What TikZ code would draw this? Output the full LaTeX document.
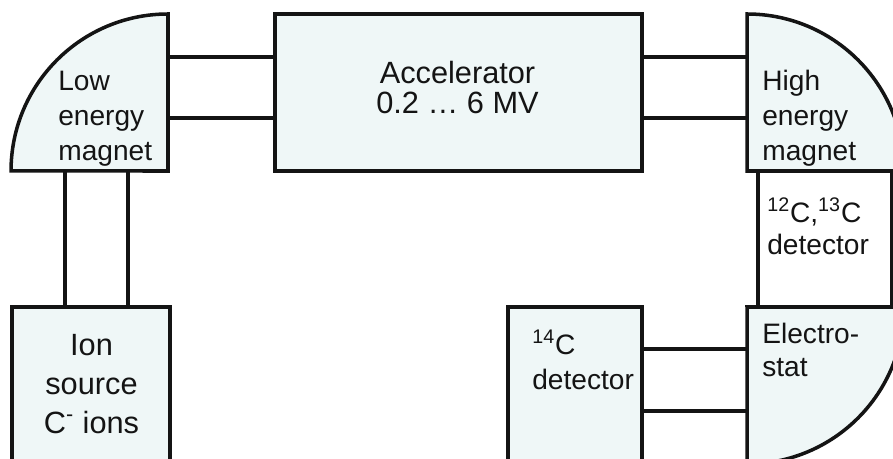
\documentclass[tikz,border=0pt]{standalone}
\usepackage{fontspec}
\setmainfont{Liberation Sans}
\usetikzlibrary{positioning,fit}
\definecolor{partfill}{RGB}{239,247,247}
\definecolor{inkc}{RGB}{20,20,20}

\begin{document}
\begin{tikzpicture}[
  x=0.02cm, y=0.02cm,
  zone/.style={inner sep=0pt, outer sep=0pt},
  part/.style={draw=inkc, fill=partfill, line width=2pt, inner sep=0pt, outer sep=0pt},
  det/.style={draw=inkc, fill=white, line width=2pt, inner sep=0pt, outer sep=0pt},
  tube/.style={line width=2pt, inkc},
  txt/.style={font=\fontsize{16}{20}\selectfont, align=left, inner sep=0pt, text=inkc, anchor=base west},
  bigtxt/.style={font=\fontsize{17.5}{17.6}\selectfont, align=center, inner sep=0pt, text=inkc, anchor=base},
]
\useasboundingbox (0,0) rectangle (893,-459);
\clip (0,0) rectangle (893,-459);

% ============ magnets and electrostat (quarter discs) ============
\node[zone, fit={(11,-14)(168,-171)}] (lem) {};
\node[zone, fit={(747,-14)(904,-171)}] (hem) {};
\node[zone, fit={(747,-307)(904,-464)}] (esa) {};
\draw[part] (lem.north east) arc[start angle=90, end angle=180, radius=3.14cm] -- (lem.south east) -- cycle;
\draw[part] (hem.north west) arc[start angle=90, end angle=0, radius=3.14cm] -- (hem.south west) -- cycle;
\draw[part] (esa.north west) -- (esa.north east) arc[start angle=0, end angle=-90, radius=3.14cm] -- cycle;

% ============ boxes ============
\node[part, fit={(275,-14)(642,-171)}] (acc) {};
\node[det, fit={(758,-171)(892,-307)}] (cdet) {};
\node[part, fit={(508,-307)(642,-480)}] (fdet) {};
\node[part, fit={(12,-307)(170,-480)}] (src) {};

% ============ beam tubes ============
\coordinate (hiA) at (0,-57);
\coordinate (hiB) at (0,-118);
\coordinate (loA) at (0,-349);
\coordinate (loB) at (0,-411);
\coordinate (vA) at (65,0);
\coordinate (vB) at (128,0);
\draw[tube] (lem.east |- hiA) -- (acc.west |- hiA);
\draw[tube] (lem.east |- hiB) -- (acc.west |- hiB);
\draw[tube] (acc.east |- hiA) -- (hem.west |- hiA);
\draw[tube] (acc.east |- hiB) -- (hem.west |- hiB);
\draw[tube] (lem.south -| vA) -- (src.north -| vA);
\draw[tube] (lem.south -| vB) -- (src.north -| vB);
\draw[tube] (fdet.east |- loA) -- (esa.west |- loA);
\draw[tube] (fdet.east |- loB) -- (esa.west |- loB);

% ============ labels (base = last line) ============
\node[bigtxt] (acctxt) at (457.5,-114) {Accelerator\\0.2 … 6 MV};
\node[bigtxt, font=\fontsize{17.5}{22.1}\selectfont] (srctxt) at (91.5,-433) {Ion\\source\\C\textsuperscript{-} ions};
\node[txt] (lemtxt) at (58,-161) {Low\\energy\\magnet};
\node[txt] (hemtxt) at (762,-161) {High\\energy\\magnet};
\node[txt, font=\fontsize{16}{18.7}\selectfont] (cdettxt) at (767,-255) {\textsuperscript{12}C,\textsuperscript{13}C\\detector};
\node[txt, font=\fontsize{16}{19.3}\selectfont] (esatxt) at (762,-377) {Electro-\\stat};
\node[txt] (fdettxt) at (532,-390) {\textsuperscript{14}C\\detector};
\end{tikzpicture}
\end{document}
